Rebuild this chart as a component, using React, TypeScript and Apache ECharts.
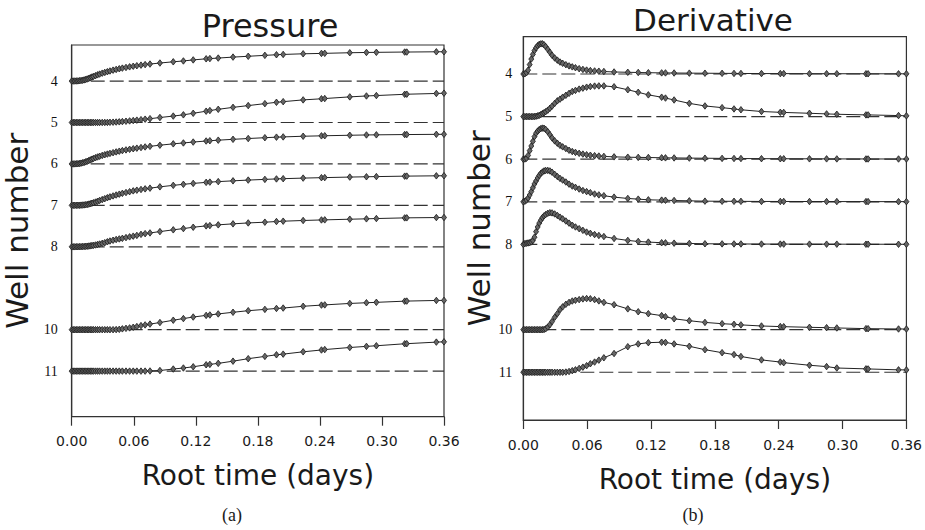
import React, { useEffect, useRef } from "react";
import * as echarts from "echarts";

// Root time (days) of every sample, shared by all wells and both panels
const TIME = [
  0, 0.0015, 0.003, 0.0045, 0.006, 0.0075, 0.009, 0.0105,
  0.012, 0.0135, 0.015, 0.0165, 0.018, 0.0195, 0.021, 0.023,
  0.025, 0.027, 0.0295, 0.032, 0.0345, 0.037, 0.04, 0.043,
  0.046, 0.049, 0.0525, 0.056, 0.0595, 0.063, 0.067, 0.071,
  0.0757, 0.0853, 0.0982, 0.108, 0.1175, 0.13, 0.1336, 0.1417,
  0.156, 0.1707, 0.1868, 0.198, 0.2045, 0.2238, 0.2415, 0.2447,
  0.2689, 0.285, 0.2946, 0.322, 0.324, 0.3526, 0.36,
];

const WELLS = [4, 5, 6, 7, 8, 10, 11];
const WELL_LABELS = [4, 5, 6, 7, 8, 10, 11];
const X_MIN = 0;
const X_MAX = 0.36;
const X_INTERVAL = 0.06;

// Normalised response (in well-spacing units) above each well's baseline
const pressure4 = [
  0, 0, 0.001, 0.002, 0.004, 0.008, 0.013, 0.02,
  0.028, 0.038, 0.05, 0.064, 0.08, 0.096, 0.112, 0.13,
  0.15, 0.168, 0.19, 0.208, 0.226, 0.243, 0.263, 0.28,
  0.297, 0.312, 0.328, 0.343, 0.357, 0.37, 0.384, 0.397,
  0.41, 0.435, 0.465, 0.485, 0.51, 0.537, 0.542, 0.555,
  0.578, 0.598, 0.62, 0.635, 0.642, 0.658, 0.667, 0.669,
  0.683, 0.69, 0.693, 0.7, 0.7, 0.706, 0.707,
];
const pressure5 = [
  0, 0, 0, 0, 0, 0, 0, 0,
  0, 0, 0, 0, 0, 0, 0, 0,
  0, 0, 0, 0.001, 0.002, 0.004, 0.007, 0.011,
  0.016, 0.022, 0.03, 0.038, 0.047, 0.057, 0.068, 0.08,
  0.092, 0.12, 0.155, 0.185, 0.222, 0.272, 0.288, 0.318,
  0.365, 0.408, 0.455, 0.487, 0.503, 0.545, 0.572, 0.578,
  0.618, 0.64, 0.65, 0.68, 0.682, 0.7, 0.707,
];
const pressure6 = [
  0, 0, 0.001, 0.003, 0.006, 0.011, 0.018, 0.027,
  0.037, 0.05, 0.064, 0.08, 0.097, 0.114, 0.13, 0.15,
  0.168, 0.185, 0.205, 0.222, 0.238, 0.254, 0.272, 0.29,
  0.307, 0.322, 0.338, 0.353, 0.367, 0.38, 0.395, 0.41,
  0.425, 0.452, 0.485, 0.506, 0.528, 0.553, 0.56, 0.573,
  0.594, 0.613, 0.633, 0.646, 0.652, 0.668, 0.678, 0.68,
  0.692, 0.699, 0.702, 0.709, 0.709, 0.714, 0.715,
];
const pressure7 = [
  0, 0, 0, 0.001, 0.002, 0.003, 0.005, 0.008,
  0.011, 0.015, 0.022, 0.03, 0.04, 0.051, 0.063, 0.08,
  0.098, 0.118, 0.14, 0.162, 0.185, 0.205, 0.228, 0.25,
  0.27, 0.29, 0.31, 0.33, 0.35, 0.366, 0.383, 0.398,
  0.415, 0.447, 0.483, 0.508, 0.53, 0.555, 0.561, 0.573,
  0.592, 0.61, 0.627, 0.638, 0.644, 0.658, 0.668, 0.67,
  0.683, 0.69, 0.694, 0.705, 0.706, 0.713, 0.715,
];
const pressure8 = [
  0, 0, 0, 0.001, 0.002, 0.003, 0.004, 0.006,
  0.008, 0.011, 0.014, 0.018, 0.023, 0.029, 0.035, 0.044,
  0.055, 0.067, 0.083, 0.1, 0.122, 0.14, 0.158, 0.176,
  0.19, 0.204, 0.222, 0.24, 0.257, 0.275, 0.3, 0.318,
  0.335, 0.367, 0.41, 0.44, 0.472, 0.505, 0.512, 0.53,
  0.554, 0.576, 0.594, 0.61, 0.618, 0.635, 0.648, 0.65,
  0.666, 0.675, 0.682, 0.698, 0.699, 0.706, 0.707,
];
const pressure10 = [
  0, 0, 0, 0, 0, 0, 0, 0,
  0, 0, 0, 0, 0, 0, 0, 0,
  0, 0, 0, 0, 0, 0, 0, 0.002,
  0.008, 0.02, 0.032, 0.043, 0.058, 0.075, 0.098, 0.115,
  0.135, 0.172, 0.228, 0.268, 0.305, 0.345, 0.355, 0.38,
  0.42, 0.458, 0.49, 0.512, 0.522, 0.565, 0.593, 0.598,
  0.633, 0.65, 0.66, 0.688, 0.69, 0.705, 0.707,
];
const pressure11 = [
  0, 0, 0, 0, 0, 0, 0, 0,
  0, 0, 0, 0, 0, 0, 0, 0,
  0, 0, 0, 0, 0, 0, 0, 0,
  0, 0, 0, 0, 0, 0, 0, 0,
  0.003, 0.014, 0.05, 0.075, 0.105, 0.153, 0.162, 0.187,
  0.24, 0.3, 0.355, 0.394, 0.41, 0.466, 0.51, 0.52,
  0.57, 0.597, 0.612, 0.66, 0.662, 0.7, 0.707,
];

const derivative4 = [
  0, 0.005, 0.03, 0.09, 0.22, 0.35, 0.46, 0.55,
  0.615, 0.665, 0.695, 0.708, 0.708, 0.685, 0.645, 0.578,
  0.51, 0.44, 0.375, 0.325, 0.28, 0.25, 0.218, 0.19,
  0.167, 0.147, 0.125, 0.107, 0.092, 0.08, 0.071, 0.065,
  0.058, 0.047, 0.04, 0.035, 0.03, 0.026, 0.025, 0.023,
  0.02, 0.018, 0.015, 0.013, 0.012, 0.01, 0.009, 0.009,
  0.007, 0.006, 0.006, 0.005, 0.005, 0.004, 0.004,
];
const derivative5 = [
  0, 0, 0, 0, 0, 0, 0, 0.003,
  0.008, 0.017, 0.03, 0.048, 0.07, 0.09, 0.115, 0.15,
  0.195, 0.245, 0.31, 0.37, 0.41, 0.455, 0.5, 0.545,
  0.59, 0.615, 0.645, 0.668, 0.69, 0.705, 0.716, 0.72,
  0.72, 0.7, 0.63, 0.57, 0.51, 0.455, 0.435, 0.39,
  0.31, 0.25, 0.21, 0.18, 0.16, 0.12, 0.1, 0.098,
  0.078, 0.063, 0.055, 0.04, 0.04, 0.024, 0.018,
];
const derivative6 = [
  0, 0.005, 0.022, 0.09, 0.2, 0.31, 0.42, 0.53,
  0.61, 0.66, 0.695, 0.718, 0.73, 0.725, 0.7, 0.645,
  0.575, 0.5, 0.43, 0.375, 0.325, 0.29, 0.25, 0.21,
  0.18, 0.16, 0.138, 0.12, 0.104, 0.093, 0.083, 0.074,
  0.066, 0.055, 0.047, 0.043, 0.04, 0.034, 0.032, 0.03,
  0.026, 0.023, 0.019, 0.017, 0.016, 0.013, 0.011, 0.011,
  0.009, 0.008, 0.007, 0.006, 0.006, 0.005, 0.005,
];
const derivative7 = [
  0, 0.014, 0.04, 0.088, 0.16, 0.24, 0.33, 0.42,
  0.49, 0.56, 0.62, 0.67, 0.7, 0.725, 0.735, 0.737,
  0.725, 0.695, 0.645, 0.595, 0.55, 0.51, 0.465, 0.415,
  0.37, 0.34, 0.3, 0.265, 0.24, 0.215, 0.183, 0.163,
  0.143, 0.11, 0.079, 0.063, 0.047, 0.04, 0.037, 0.031,
  0.023, 0.016, 0.013, 0.012, 0.011, 0.009, 0.008, 0.008,
  0.007, 0.006, 0.006, 0.005, 0.005, 0.004, 0.004,
];
const derivative8 = [
  0, 0.02, 0.03, 0.035, 0.04, 0.06, 0.09, 0.17,
  0.3, 0.41, 0.5, 0.57, 0.63, 0.67, 0.7, 0.73,
  0.745, 0.74, 0.715, 0.68, 0.64, 0.6, 0.55, 0.5,
  0.45, 0.41, 0.37, 0.33, 0.29, 0.26, 0.232, 0.21,
  0.185, 0.14, 0.094, 0.07, 0.055, 0.04, 0.037, 0.03,
  0.023, 0.016, 0.013, 0.012, 0.011, 0.009, 0.008, 0.008,
  0.007, 0.006, 0.006, 0.005, 0.005, 0.004, 0.004,
];
const derivative10 = [
  0, 0, 0, 0, 0, 0, 0, 0,
  0, 0, 0, 0, 0, 0.005, 0.02, 0.06,
  0.117, 0.19, 0.29, 0.375, 0.47, 0.535, 0.595, 0.64,
  0.672, 0.69, 0.705, 0.722, 0.73, 0.725, 0.705, 0.675,
  0.64, 0.585, 0.488, 0.42, 0.375, 0.33, 0.305, 0.255,
  0.21, 0.17, 0.14, 0.125, 0.112, 0.086, 0.072, 0.07,
  0.055, 0.047, 0.04, 0.024, 0.023, 0.016, 0.015,
];
const derivative11 = [
  0, 0, 0, 0, 0, 0, 0, 0,
  0, 0, 0, 0, 0, 0, 0, 0,
  0, 0, 0, 0, 0, 0, 0.005, 0.018,
  0.038, 0.058, 0.09, 0.12, 0.155, 0.2, 0.24, 0.285,
  0.34, 0.44, 0.6, 0.665, 0.695, 0.705, 0.7, 0.665,
  0.61, 0.53, 0.46, 0.415, 0.37, 0.29, 0.24, 0.225,
  0.165, 0.133, 0.1, 0.08, 0.078, 0.057, 0.055,
];

const PRESSURE_SERIES = [pressure4, pressure5, pressure6, pressure7, pressure8, pressure10, pressure11];
const DERIVATIVE_SERIES = [derivative4, derivative5, derivative6, derivative7, derivative8, derivative10, derivative11];

const SANS = "DejaVu Sans";
const SERIF = "Liberation Serif";
const INK = "#1a1a1a";

function buildSeries(panel: number, values: number[][]) {
  const out: any[] = [];
  WELLS.forEach((w, k) => {
    out.push({
      type: "line",
      xAxisIndex: panel,
      yAxisIndex: panel,
      data: [[X_MIN, w], [X_MAX, w]],
      symbol: "none",
      silent: true,
      z: 1,
      lineStyle: { color: "#333", width: 1.2, type: [14, 5] },
    });
    const rise = values[k];
    out.push({
      type: "line",
      xAxisIndex: panel,
      yAxisIndex: panel,
      data: TIME.map((t, i) => [t, w - rise[i]]),
      symbol: "diamond",
      symbolSize: [5, 6.5],
      showSymbol: true,
      z: 3,
      lineStyle: { color: "#222", width: 1 },
      itemStyle: { color: "#666", borderColor: "#1a1a1a", borderWidth: 0.8 },
    });
  });
  return out;
}

function xAxis(grid: number, margin: number) {
  return {
    type: "value",
    gridIndex: grid,
    min: X_MIN,
    max: X_MAX,
    interval: X_INTERVAL,
    splitLine: { show: false },
    axisLine: { show: true, lineStyle: { color: "#333", width: 1.2 } },
    axisTick: { show: true, inside: false, length: 9, lineStyle: { color: "#333", width: 1.2 } },
    axisLabel: {
      formatter: (v: number) => v.toFixed(2),
      fontFamily: SANS,
      fontSize: 14,
      color: INK,
      margin,
    },
    name: "Root time (days)",
    nameLocation: "middle",
    nameGap: 45,
    nameTextStyle: { fontFamily: SANS, fontSize: 28, color: INK },
  };
}

function yAxis(grid: number, min: number, max: number, margin: number, pad: number, nameGap: number) {
  return {
    type: "value",
    gridIndex: grid,
    inverse: true,
    min,
    max,
    splitLine: { show: false },
    axisLine: { show: true, lineStyle: { color: "#333", width: 1.2 } },
    axisTick: { show: false },
    axisLabel: {
      customValues: WELL_LABELS,
      fontFamily: SERIF,
      fontSize: 14,
      color: "#111",
      margin,
      padding: [pad, 0, 0, 0],
    },
    name: "Well number",
    nameLocation: "middle",
    nameRotate: 90,
    nameGap,
    nameTextStyle: { fontFamily: SANS, fontSize: 31, color: INK },
  };
}

export default function App() {
  const ref = useRef<HTMLDivElement>(null);
  useEffect(() => {
    if (!ref.current) return;
    const chart = echarts.init(ref.current, null, { renderer: "svg" });
    chart.setOption({
      animation: false,
      backgroundColor: "#fff",
      grid: [
        { left: 71.7, top: 45, width: 372.3, height: 371.7, show: true, borderColor: "#333", borderWidth: 1.2, backgroundColor: "transparent" },
        { left: 523.3, top: 36.7, width: 383.4, height: 383.3, show: true, borderColor: "#333", borderWidth: 1.2, backgroundColor: "transparent" },
      ],
      xAxis: [xAxis(0, 17), xAxis(1, 18)],
      yAxis: [yAxis(0, 3.13, 12.1, 14, 10, 39), yAxis(1, 3.125, 12.12, 11, 0, 28)],
      series: [...buildSeries(0, PRESSURE_SERIES), ...buildSeries(1, DERIVATIVE_SERIES)],
      graphic: [
        { type: "text", x: 270, y: 26, style: { text: "Pressure", fontFamily: SANS, fontSize: 32, fill: INK, align: "center", verticalAlign: "middle" } },
        { type: "text", x: 713, y: 20, style: { text: "Derivative", fontFamily: SANS, fontSize: 31, fill: INK, align: "center", verticalAlign: "middle" } },
        { type: "text", x: 232, y: 515, style: { text: "(a)", fontFamily: SERIF, fontSize: 18, fill: INK, align: "center", verticalAlign: "middle" } },
        { type: "text", x: 693, y: 515, style: { text: "(b)", fontFamily: SERIF, fontSize: 18, fill: INK, align: "center", verticalAlign: "middle" } },
      ],
    });
    return () => chart.dispose();
  }, []);
  return <div ref={ref} style={{ position: "fixed", left: 0, top: 0, width: 925, height: 530 }} />;
}
